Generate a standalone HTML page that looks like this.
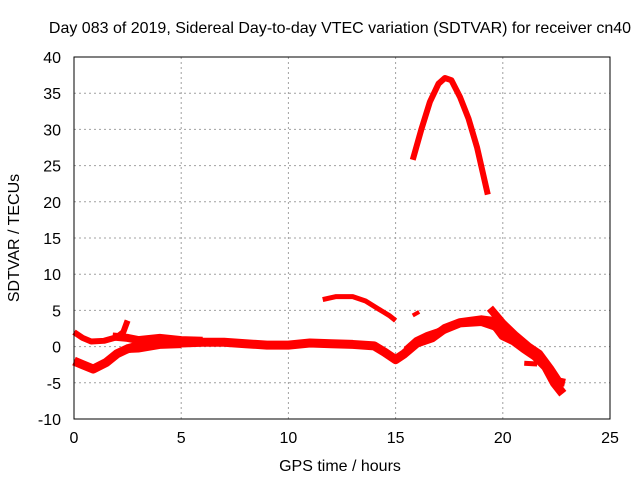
<!DOCTYPE html>
<html><head><meta charset="utf-8"><style>
body{margin:0;background:#fff;}
text{font-family:"Liberation Sans",sans-serif;font-size:16px;fill:#000;}
</style></head><body>
<svg id="chart" width="640" height="480" xmlns="http://www.w3.org/2000/svg">
<rect width="640" height="480" fill="#fff"/>
<text x="340" y="33" text-anchor="middle">Day 083 of 2019, Sidereal Day-to-day VTEC variation (SDTVAR) for receiver cn40</text>
<text x="340" y="471" text-anchor="middle">GPS time / hours</text>
<text transform="translate(19,238) rotate(-90)" text-anchor="middle">SDTVAR / TECUs</text>
<g id="grid"></g>
<g id="series"></g>
<rect x="74" y="57" width="536" height="362" fill="none" stroke="#000" stroke-width="1"/>
<g id="ticks"></g>
</svg>
<script>
const xTicks=[0,5,10,15,20,25];
const yTicks=[-10,-5,0,5,10,15,20,25,30,35,40];
const arcSeries=[[15.8,25.8],[16.2,30],[16.6,33.8],[17,36.3],[17.3,37.1],[17.6,36.8],[18,34.5],[18.4,31.5],[18.8,27.5],[19.3,21]];
const eveningSeries=[[11.6,6.5],[12.2,6.9],[13,6.9],[13.6,6.3],[14.2,5.2],[14.7,4.3],[15,3.6]];
const stubSeries=[[15.8,4.3],[16.1,4.8]];
const mainSeries=[[0,-2],[0.4,-2.5],[0.9,-3.1],[1.5,-2.2],[2,-1],[2.5,-0.3],[3,0.1],[4,0.4],[5,0.5],[6,0.6],[7,0.6],[8,0.4],[9,0.2],[10,0.2],[11,0.5],[12,0.4],[13,0.3],[14,0.1],[14.5,-0.8],[15,-1.8],[15.4,-1],[16,0.5],[16.7,1.2],[17.3,2.5],[18,3.3],[19,3.7],[19.5,3.5],[20,1.5],[20.5,0.8],[21,-0.3],[21.5,-1.3],[22,-2.8],[22.4,-5],[22.8,-6.5]];
const morningSeries=[[0,2],[0.4,1.2],[0.8,0.7],[1.4,0.8],[2,1.3],[2.3,2],[2.5,3.6]];
const bandSeries=[[1.8,1.4],[2.5,1.2],[3,0.9],[4,1.2],[5,0.9],[6,0.8]];
const band2Series=[[2.2,-0.5],[3,-0.4],[4,0.1],[5,0.2]];
const riseSeries=[[15.5,-0.5],[16,0.8],[16.5,1.5],[17,2],[18,3.2],[19,3.4],[19.6,2.8],[20,2],[20.7,1]];
const lateSeries=[[19.4,5.3],[20,3.2],[20.6,1.5],[21.2,0],[21.7,-1],[22.2,-3],[22.6,-4.8],[22.9,-5]];
const dipSeries=[[21,-2.3],[21.6,-2.4]];
const X=h=>74+h*536/25, Y=v=>419-(v+10)*362/50;
const ns="http://www.w3.org/2000/svg";
const grid=document.getElementById('grid'),ticks=document.getElementById('ticks'),ser=document.getElementById('series');
function mk(t,a,p){const e=document.createElementNS(ns,t);for(const k in a)e.setAttribute(k,a[k]);p.appendChild(e);return e;}
xTicks.forEach(t=>{
 if(t>0&&t<25){const g=mk('line',{x1:X(t),x2:X(t),y1:57,y2:419,stroke:'#a0a0a0','stroke-dasharray':'2,3'},grid);
 
 }
 const l=mk('text',{x:X(t),y:443,'text-anchor':'middle'},ticks);l.textContent=t;
 
 
});
yTicks.forEach(t=>{
 if(t>-10&&t<40){const g=mk('line',{x1:74,x2:610,y1:Y(t),y2:Y(t),stroke:'#a0a0a0','stroke-dasharray':'2,3'},grid);
 
 }
 const l=mk('text',{x:61,y:Y(t)+6,'text-anchor':'end'},ticks);l.textContent=t;
 
 
});
const all=[[arcSeries,6],[eveningSeries,5],[stubSeries,4],[mainSeries,9],[morningSeries,6],[bandSeries,8],[band2Series,6],[riseSeries,8],[lateSeries,8],[dipSeries,5]];
all.forEach(([d,w])=>{
 const p=mk('polyline',{points:d.map(q=>X(q[0])+','+Y(q[1])).join(' '),fill:'none',stroke:'#ff0000','stroke-width':w,'stroke-linejoin':'round'},ser);
 
 
});
</script>
</body></html>
